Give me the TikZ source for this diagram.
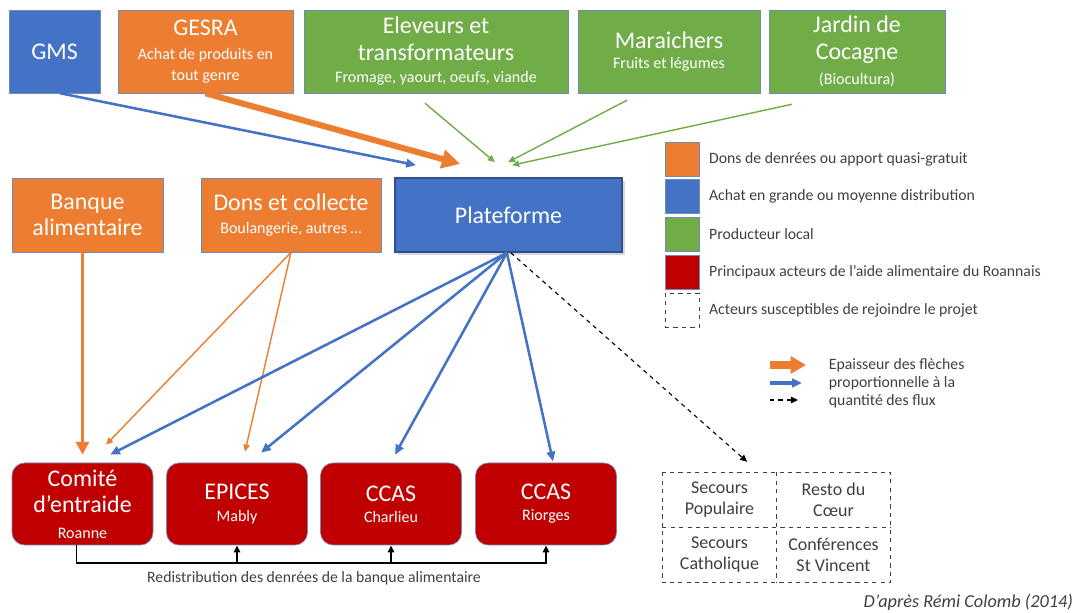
\documentclass[tikz,border=0pt]{standalone}
\usepackage{fontspec}
\setmainfont{Carlito}
\usepackage{tikz}
\usepackage{xcolor}
\usetikzlibrary{shapes,arrows.meta,positioning,calc,shadows}
\definecolor{donscolor}{RGB}{237,125,49}
\definecolor{achatcolor}{RGB}{68,114,196}
\definecolor{prodcolor}{RGB}{112,173,71}
\definecolor{aidecolor}{RGB}{192,0,0}
\definecolor{linecolor}{RGB}{110,140,180}
\definecolor{greytext}{RGB}{64,64,64}
\newcommand{\subtxt}[1]{{\fontsize{11.4}{13}\selectfont #1}}

\begin{document}
\begin{tikzpicture}[
    box/.style={rectangle, draw=linecolor, line width=0.5pt, align=center, text=white, inner sep=1pt, font=\fontsize{17}{19}\selectfont},
    donsbox/.style={box, fill=donscolor},
    achatbox/.style={box, fill=achatcolor},
    prodbox/.style={box, fill=prodcolor},
    topbox/.style={minimum height=2.075cm},
    midbox/.style={minimum height=1.85cm},
    aidebox/.style={box, fill=aidecolor, rounded corners=9pt, minimum width=3.525cm, minimum height=2.05cm},
    joincell/.style={rectangle, minimum width=2.85cm, minimum height=1.375cm, align=center, text=greytext, font=\fontsize{12.8}{15}\selectfont},
    legsq/.style={rectangle, draw=linecolor, line width=0.5pt, minimum size=0.85cm},
    legtxt/.style={font=\fontsize{11.2}{12.8}\selectfont, text=greytext},
    heavyflow/.style={-{Triangle[length=13pt, width=13pt]}, line width=4.3pt, donscolor},
    oflow/.style={-{Triangle[length=9pt, width=9pt]}, line width=2.8pt, donscolor},
    bflow/.style={-{Triangle[length=7pt, width=6pt]}, line width=1.8pt, achatcolor},
    thinflow/.style={-{Triangle[length=5pt, width=4.5pt]}, line width=1pt},
    dashflow/.style={-{Triangle[length=5pt, width=4.5pt]}, dashed, line width=0.8pt, black}
]

\useasboundingbox (0,0) rectangle (27.1,15.325);
\fill[white] (0,0) rectangle (27.1,15.325);

% Sources
\node[achatbox, topbox, minimum width=2.275cm] (gms) at (1.3625,14.04) {GMS};
\node[donsbox, topbox, minimum width=4.375cm] (gesra) at (5.1375,14.04) {GESRA\\[-2pt]\subtxt{Achat de produits en}\\[-4pt]\subtxt{tout genre}};
\node[prodbox, topbox, minimum width=6.6cm] (elev) at (10.9,14.04) {Eleveurs et\\transformateurs\\[-3pt]\subtxt{Fromage, yaourt, oeufs, viande}};
\node[prodbox, topbox, minimum width=4.55cm] (mara) at (16.725,14.04) {Maraichers\\[-4.5pt]\subtxt{Fruits et légumes}};
\node[prodbox, topbox, minimum width=4.4cm] (jardin) at (21.425,14.04) {Jardin de\\Cocagne\\[-1pt]\subtxt{(Biocultura)}};

% Second row
\node[donsbox, midbox, minimum width=3.775cm] (banque) at (2.1875,9.95) {Banque\\alimentaire};
\node[donsbox, midbox, minimum width=4.5cm] (dons) at (7.275,9.95) {Dons et collecte\\[-3pt]\subtxt{Boulangerie, autres …}};
\node[achatbox, midbox, minimum width=5.675cm, draw=achatcolor!70!black, line width=1.2pt, drop shadow={opacity=0.3}] (plat) at (12.7125,9.95) {Plateforme};

% Food aid actors
\node[aidebox] (comite) at (2.0625,2.725) {Comité\\d’entraide\\[-1pt]\subtxt{Roanne}};
\node[aidebox] (epices) at (5.925,2.725) {EPICES\\[-4pt]\subtxt{Mably}};
\node[aidebox] (charlieu) at (9.775,2.725) {CCAS\\[-4pt]\subtxt{Charlieu}};
\node[aidebox] (riorges) at (13.65,2.725) {CCAS\\[-4pt]\subtxt{Riorges}};

% Possible new partners
\node[joincell] (secpop) at (17.9875,2.825) {Secours\\Populaire};
\node[joincell] (resto) at (20.8375,2.825) {Resto du\\Cœur};
\node[joincell] (seccat) at (17.9875,1.45) {Secours\\Catholique};
\node[joincell] (stvinc) at (20.8375,1.45) {Conférences\\St Vincent};
\draw[dashed, greytext, line width=0.8pt] (secpop.north west) rectangle (stvinc.south east);
\draw[dashed, greytext, line width=0.8pt] (secpop.north east) -- (seccat.south east);
\draw[dashed, greytext, line width=0.8pt] (secpop.south west) -- (resto.south east);

% Legend
\node[legsq, fill=donscolor] (lsq1) at (17.05,11.35) {};
\node[legsq, fill=achatcolor] (lsq2) at (17.05,10.4125) {};
\node[legsq, fill=prodcolor] (lsq3) at (17.05,9.4625) {};
\node[legsq, fill=aidecolor] (lsq4) at (17.05,8.5125) {};
\node[legsq, draw=greytext, dashed] (lsq5) at (17.05,7.5625) {};
\node[legtxt, right=0.12cm of lsq1] (ltx1) {Dons de denrées ou apport quasi-gratuit};
\node[legtxt, right=0.12cm of lsq2] (ltx2) {Achat en grande ou moyenne distribution};
\node[legtxt, right=0.12cm of lsq3] (ltx3) {Producteur local};
\node[legtxt, right=0.12cm of lsq4] (ltx4) {Principaux acteurs de l’aide alimentaire du Roannais};
\node[legtxt, right=0.12cm of lsq5] (ltx5) {Acteurs susceptibles de rejoindre le projet};

% Arrow legend
\node[legtxt, align=left, anchor=west] (legflux) at (20.6,5.75) {Epaisseur des flèches\\proportionnelle à la\\quantité des flux};
\coordinate (la1) at (19.25,6.2);
\coordinate (la2) at (19.25,5.75);
\coordinate (la3) at (19.25,5.325);
\draw[-{Triangle[length=11pt, width=12pt]}, line width=5pt, donscolor] (la1) -- ([xshift=-0.45cm]la1 -| legflux.west);
\draw[bflow, line width=2.2pt] (la2) -- ([xshift=-0.55cm]la2 -| legflux.west);
\draw[dashflow, line width=1pt] (la3) -- ([xshift=-0.65cm]la3 -| legflux.west);

% Arrows - supply to the platform
\draw[bflow] ([xshift=0.14cm]gms.south) -- ([shift={(-2.31,0.3)}]plat.north);
\draw[heavyflow] (gesra.south) -- ([shift={(-1.21,0.33)}]plat.north);
\draw[thinflow, prodcolor] ([shift={(-0.275,-0.25)}]elev.south) -- ([shift={(-0.34,0.375)}]plat.north);
\draw[thinflow, prodcolor] ([shift={(-1.05,-0.175)}]mara.south) -- ([shift={(-0.01,0.375)}]plat.north);
\draw[thinflow, prodcolor] ([shift={(-1.625,-0.275)}]jardin.south) -- ([shift={(0.09,0.3)}]plat.north);

% Arrows - donations
\draw[oflow] (comite.north |- banque.south) -- ([yshift=0.2cm]comite.north);
\draw[thinflow, donscolor] (dons.south) -- ([shift={(0.59,0.45)}]comite.north);
\draw[thinflow, donscolor] (dons.south) -- ([shift={(0.2,0.275)}]epices.north);

% Arrows - platform to actors
\draw[bflow] ([xshift=-0.04cm]plat.south) -- ([shift={(0.69,0.2)}]comite.north);
\draw[bflow] ([xshift=-0.04cm]plat.south) -- ([shift={(0.6,0.25)}]epices.north);
\draw[bflow] ([xshift=-0.04cm]plat.south) -- ([shift={(0.1,0.2)}]charlieu.north);
\draw[bflow] ([xshift=-0.04cm]plat.south) -- ([shift={(0.175,0.03)}]riorges.north);
\draw[dashflow] ([xshift=0.06cm]plat.south) -- ([shift={(0.69,0.26)}]secpop.north);

% Redistribution
\coordinate (bus) at (0,1.25);
\draw[thinflow, line width=1.4pt] ([xshift=-0.15cm]comite.south) |- (riorges.south |- bus) -- (riorges.south);
\draw[thinflow, line width=1.4pt] (epices.south |- bus) -- (epices.south);
\draw[thinflow, line width=1.4pt] (charlieu.south |- bus) -- (charlieu.south);
\node[legtxt] (redist) at (7.85,0.875) {Redistribution des denrées de la banque alimentaire};

% Source
\node[font=\fontsize{13}{15}\selectfont\itshape, text=greytext, anchor=east] (credit) at (26.95,0.275) {D’après Rémi Colomb (2014)};

\end{tikzpicture}
\end{document}
